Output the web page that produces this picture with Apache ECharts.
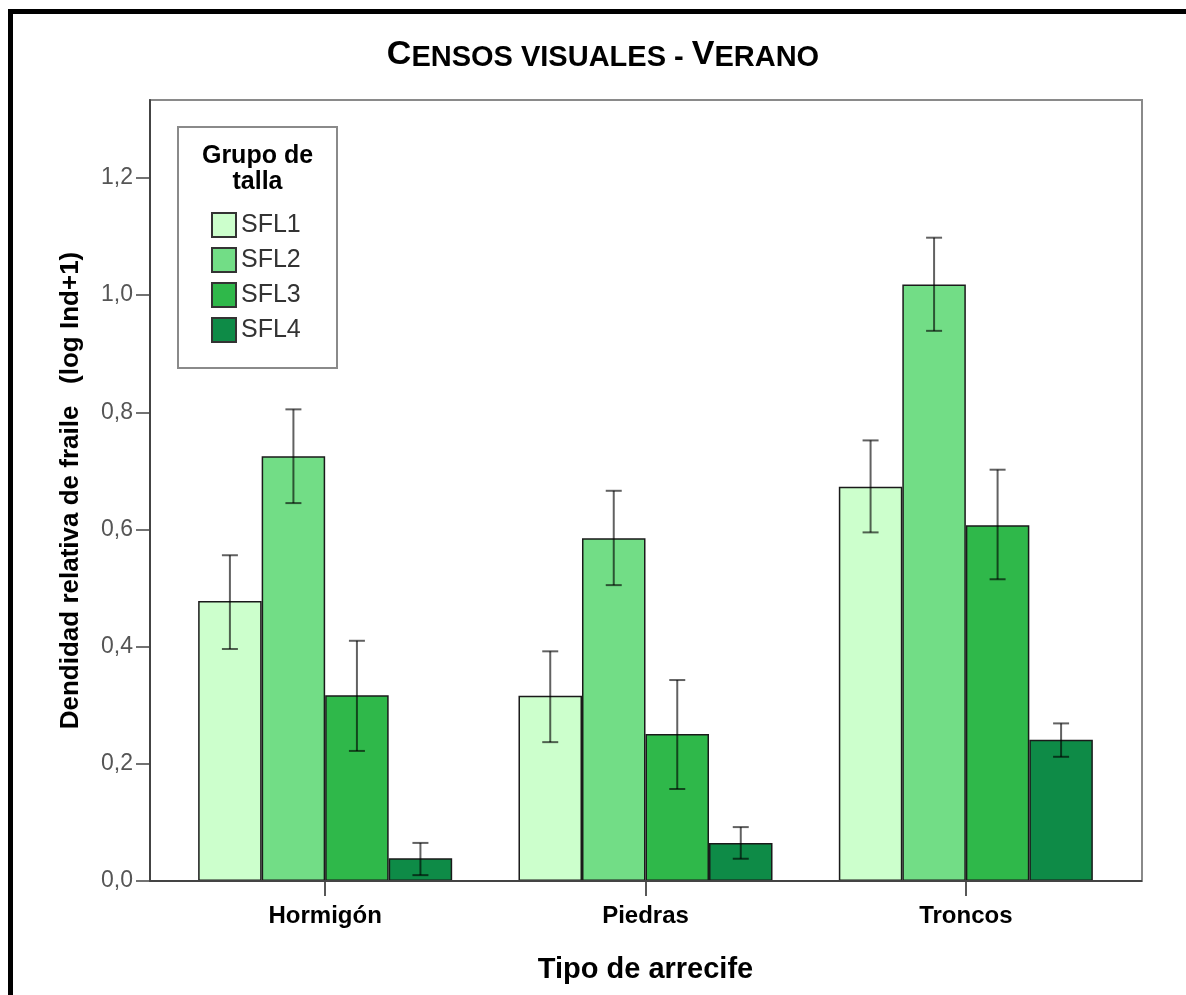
<!DOCTYPE html>
<html>
<head>
<meta charset="utf-8">
<script src="https://cdn.jsdelivr.net/npm/echarts@6/dist/echarts.min.js"></script>
<style>html,body{margin:0;padding:0;background:#fff;}#c{width:1186px;height:995px;}</style>
</head>
<body>
<div id="c"></div>
<script>
const categories = ['Hormigón', 'Piedras', 'Troncos'];
const seriesNames = ['SFL1', 'SFL2', 'SFL3', 'SFL4'];
const sfl1 = [0.478, 0.316, 0.673];
const sfl2 = [0.725, 0.585, 1.018];
const sfl3 = [0.317, 0.251, 0.607];
const sfl4 = [0.039, 0.065, 0.241];
const sfl1Lo = [0.396, 0.237, 0.595];
const sfl1Hi = [0.556, 0.392, 0.752];
const sfl2Lo = [0.645, 0.505, 0.939];
const sfl2Hi = [0.805, 0.666, 1.098];
const sfl3Lo = [0.222, 0.157, 0.515];
const sfl3Hi = [0.410, 0.343, 0.702];
const sfl4Lo = [0.010, 0.038, 0.212];
const sfl4Hi = [0.065, 0.092, 0.269];
const yTicks = [0, 0.2, 0.4, 0.6, 0.8, 1.0, 1.2];
const colors = ['#ccffcc', '#72dd86', '#2fb84a', '#0e8b47'];

const values = [sfl1, sfl2, sfl3, sfl4];
const lows = [sfl1Lo, sfl2Lo, sfl3Lo, sfl4Lo];
const highs = [sfl1Hi, sfl2Hi, sfl3Hi, sfl4Hi];
const catGap = 0.207;
const FONT = 'Liberation Sans, Arial, sans-serif';

function errSeries(idx) {
  return {
    type: 'custom',
    name: seriesNames[idx] + ' err',
    z: 10,
    silent: true,
    data: categories.map((c, i) => [i, lows[idx][i], highs[idx][i]]),
    renderItem: function (params, api) {
      const x = api.value(0);
      const pLo = api.coord([x, api.value(1)]);
      const pHi = api.coord([x, api.value(2)]);
      const band = api.size([1, 0])[0];
      const groupW = band * (1 - catGap);
      const bw = groupW / 4;
      const cx = pLo[0] - groupW / 2 + bw * (idx + 0.5);
      const cap = 8;
      const st = { stroke: 'rgba(0,0,0,0.62)', lineWidth: 2 };
      return {
        type: 'group',
        children: [
          { type: 'line', shape: { x1: cx, y1: pLo[1], x2: cx, y2: pHi[1] }, style: st },
          { type: 'line', shape: { x1: cx - cap, y1: pHi[1], x2: cx + cap, y2: pHi[1] }, style: st },
          { type: 'line', shape: { x1: cx - cap, y1: pLo[1], x2: cx + cap, y2: pLo[1] }, style: st }
        ]
      };
    }
  };
}

const barSeries = seriesNames.map((n, i) => ({
  type: 'bar',
  name: n,
  data: values[i],
  barGap: '0%',
  barCategoryGap: (catGap * 100) + '%',
  itemStyle: { color: colors[i], borderColor: '#1a1a1a', borderWidth: 1.5 }
}));

const chart = echarts.init(document.getElementById('c'), null, { renderer: 'canvas' });
chart.setOption({
  backgroundColor: '#fff',
  animation: false,
  grid: { left: 165, right: 60, top: 100, bottom: 114, containLabel: false },
  legend: {
    orient: 'vertical',
    left: 211,
    top: 212,
    padding: 0,
    z: 60,
    itemWidth: 24,
    itemHeight: 24,
    itemGap: 9,
    icon: 'rect',
    data: seriesNames,
    itemStyle: { borderColor: '#333', borderWidth: 2 },
    textStyle: { fontFamily: FONT, fontSize: 25, lineHeight: 24, color: '#333', padding: [2, 0, 0, 0] }
  },
  xAxis: {
    type: 'category',
    data: categories,
    axisLine: { show: false },
    axisTick: { show: true, alignWithLabel: true, length: 15, lineStyle: { color: '#222', width: 1.5 } },
    axisLabel: { fontFamily: FONT, fontWeight: 'bold', fontSize: 24, color: '#000', margin: 23 },
    name: 'Tipo de arrecife',
    nameLocation: 'middle',
    nameGap: 74,
    nameTextStyle: { fontFamily: FONT, fontWeight: 'bold', fontSize: 29, color: '#000' }
  },
  yAxis: {
    type: 'value',
    min: 0,
    max: 1.333,
    interval: 0.2,
    offset: 15,
    splitLine: { show: false },
    axisLine: { show: true, lineStyle: { color: '#444', width: 2 } },
    axisTick: { show: true, length: 14, customValues: yTicks, lineStyle: { color: '#444', width: 1.5 } },
    axisLabel: {
      customValues: yTicks,
      fontFamily: FONT, fontSize: 23, color: '#555', margin: 17,
      formatter: v => v.toFixed(1).replace('.', ',')
    },
    name: 'Dendidad relativa de fraile   (log Ind+1)',
    nameLocation: 'middle',
    nameRotate: 90,
    nameGap: 66,
    nameTextStyle: { fontFamily: FONT, fontWeight: 'bold', fontSize: 26, color: '#000' }
  },
  graphic: [
    { type: 'rect', z: 0, shape: { x: 10.5, y: 11.5, width: 1300, height: 1200 }, style: { fill: 'none', stroke: '#000', lineWidth: 5 } },
    { type: 'rect', z: 0, shape: { x: 150, y: 100, width: 992, height: 781 }, style: { fill: 'none', stroke: '#8a8a8a', lineWidth: 2 } },
    { type: 'line', z: 100, shape: { x1: 150, y1: 881, x2: 1142, y2: 881 }, style: { stroke: '#444', lineWidth: 2 } },
    { type: 'rect', z: 50, shape: { x: 178, y: 127, width: 159, height: 241 }, style: { fill: '#fff', stroke: '#8a8a8a', lineWidth: 2 } },
    { type: 'text', z: 55, x: 257.5, y: 143, style: { text: 'Grupo de\ntalla', textAlign: 'center', textVerticalAlign: 'top', fontFamily: FONT, fontWeight: 'bold', fontSize: 25, lineHeight: 26, fill: '#000' } },
    { type: 'text', z: 55, x: 603, y: 72, style: {
        text: '{b|C}{s|ENSOS VISUALES - }{b|V}{s|ERANO}',
        textAlign: 'center', textVerticalAlign: 'bottom',
        rich: {
          b: { fontFamily: FONT, fontWeight: 'bold', fontSize: 34, fill: '#000', verticalAlign: 'bottom' },
          s: { fontFamily: FONT, fontWeight: 'bold', fontSize: 29, fill: '#000', verticalAlign: 'bottom' }
        }
      } }
  ],
  series: barSeries.concat([0, 1, 2, 3].map(errSeries))
});
</script>
</body>
</html>
